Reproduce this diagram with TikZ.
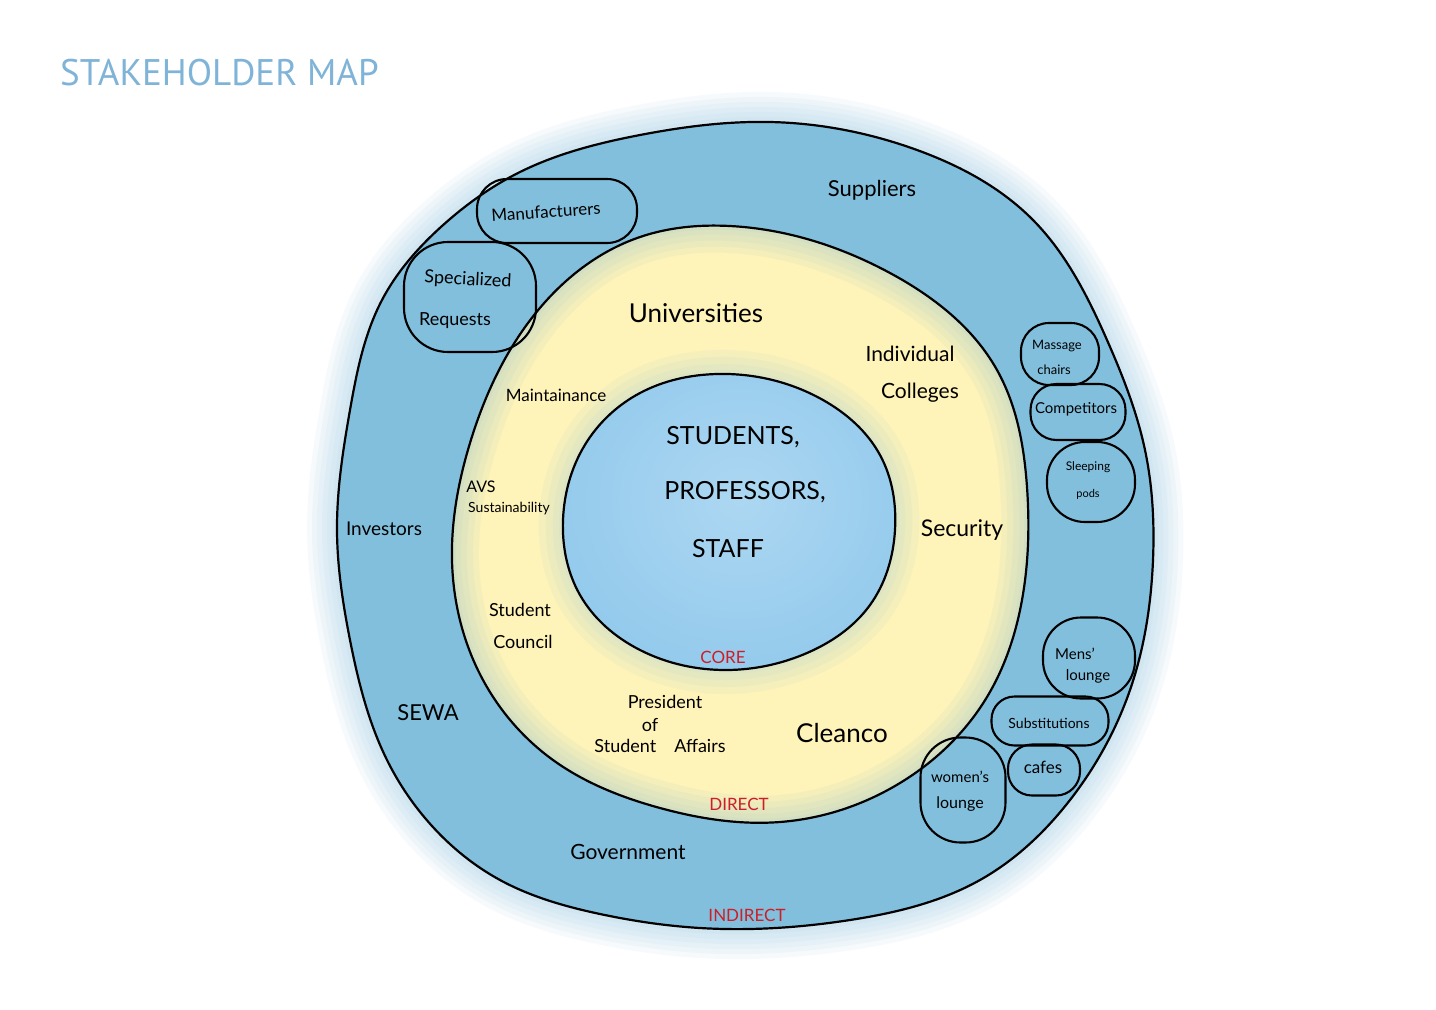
\documentclass[tikz,border=0pt]{standalone}
\usepackage{fontspec}
\usetikzlibrary{hobby}
\setmainfont{Lato}
\newfontfamily\titlefont{PT Sans}
\definecolor{titleblue}{RGB}{127,180,216}
\definecolor{ringblue}{RGB}{130,191,221}
\definecolor{yel}{RGB}{254,243,184}
\definecolor{coreblue}{RGB}{140,198,234}
\definecolor{corelight}{RGB}{172,215,242}
\definecolor{redlab}{RGB}{205,30,40}
\tikzset{
  lab/.style={inner sep=0pt, text=black},
  redl/.style={inner sep=0pt, text=redlab, font=\fontsize{17}{19}\selectfont},
  blob/.style={draw=black, line width=2.1pt, rounded corners=26pt, inner sep=0pt},
  ringline/.style={draw=black, line width=2.2pt},
}
\newcommand{\fs}[1]{\fontsize{#1}{#1}\selectfont}
\begin{document}
\begin{tikzpicture}[x=1pt,y=-1pt]
\useasboundingbox (0,0) rectangle (1436,1010);
\fill[white] (0,0) rectangle (1436,1010);
\def\outerP{plot[closed hobby] coordinates{(640,135) (770,122) (917,150) (1033,220) (1107,340) (1145,450) (1153,560) (1130,690) (1070,800) (980,880) (850,920) (700,928) (600,914) (500,880) (432,826) (387,760) (350,640) (337,530) (350,410) (382,300) (442,226) (520,172)}}
\def\middleP{plot[closed hobby] coordinates{(730,226) (890,273) (997,370) (1027,487) (1022,600) (987,697) (900,783) (780,822) (660,808) (553,760) (483,680) (452,560) (470,443) (528,323) (640,237)}}
\def\innerP{plot[closed hobby] coordinates{(717,374) (823,400) (880,455) (895,530) (870,605) (807,653) (727,670) (640,650) (580,595) (563,520) (588,440) (640,393)}}
% soft glow outside the outer ring
\foreach \w in {60,50,40,30,20,10}{\draw[ringblue,line width=\w pt,opacity=0.07] \outerP;}
\fill[ringblue] \outerP;
\fill[yel] \middleP;
\begin{scope}
  \clip \middleP;
  \foreach \w in {54,42,30,18,8}{\draw[ringblue,line width=\w pt,opacity=0.08] \middleP;}
  \foreach \w in {48,34,20,8}{\draw[coreblue,line width=\w pt,opacity=0.08] \innerP;}
\end{scope}
\begin{scope}
  \clip \innerP;
  \shade[inner color=corelight, outer color=coreblue] (740,500) ellipse (250pt and 230pt);
\end{scope}
\draw[ringline] \outerP;
\draw[ringline] \middleP;
\draw[ringline] \innerP;

% title
\node[anchor=base west, inner sep=0pt, text=titleblue, font=\titlefont\fs{37}] (title) at (60,85) {STAKEHOLDER MAP};

% blobs
\node[blob, minimum width=160pt, minimum height=64pt, rounded corners=30pt] (bManuf) at (557,211) {};
\node[blob, minimum width=132pt, minimum height=110pt, rounded corners=44pt] (bSpec) at (470,297) {};
\node[blob, minimum width=78pt, minimum height=62pt, rounded corners=28pt] (bMass) at (1060,354) {};
\node[blob, minimum width=95pt, minimum height=56pt, rounded corners=26pt] (bComp) at (1078,412) {};
\node[blob, minimum width=88pt, minimum height=80pt, rounded corners=38pt] (bSleep) at (1091,482) {};
\node[blob, minimum width=92pt, minimum height=81pt, rounded corners=38pt] (bMens) at (1089,658) {};
\node[blob, minimum width=117pt, minimum height=49pt, rounded corners=23pt] (bSubs) at (1050,721) {};
\node[blob, minimum width=72pt, minimum height=51pt, rounded corners=24pt] (bCafe) at (1044,770) {};
\node[blob, minimum width=85pt, minimum height=105pt, rounded corners=40pt] (bWomen) at (963,790) {};

% outer ring labels
\node[lab, font=\fs{22}] (suppliers) at (872,190) {Suppliers};
\node[lab, font=\fs{17}, rotate=4] (manuf) at (546,212) {Manufacturers};
\node[lab, font=\fs{18}, rotate=-3] (special) at (468,280) {Specialized};
\node[lab, font=\fs{18}] (requests) at (455,321) {Requests};
\node[lab, font=\fs{19}] (investors) at (384,529) {Investors};
\node[lab, font=\fs{22}] (sewa) at (428,713) {SEWA};
\node[lab, font=\fs{21}] (government) at (628,852) {Government};
\node[lab, font=\fs{13}] (massage) at (1057,346) {Massage};
\node[lab, font=\fs{13}] (chairs) at (1054,370) {chairs};
\node[lab, font=\fs{15}] (competitors) at (1076,409) {Competitors};
\node[lab, font=\fs{12}] (sleeping) at (1088,467) {Sleeping};
\node[lab, font=\fs{11}] (pods) at (1088,494) {pods};
\node[lab, font=\fs{15}] (mens) at (1075,654) {Mens'};
\node[lab, font=\fs{15}] (mlounge) at (1088,676) {lounge};
\node[lab, font=\fs{14}] (subs) at (1049,723) {Substitutions};
\node[lab, font=\fs{17}] (cafes) at (1043,767) {cafes};
\node[lab, font=\fs{15}] (women) at (960,777) {women's};
\node[lab, font=\fs{16}] (wlounge) at (960,804) {lounge};
\node[redl] (indirect) at (747,915) {INDIRECT};

% direct ring labels
\node[lab, font=\fs{26}] (universities) at (696,313) {Universities};
\node[lab, font=\fs{21}] (individual) at (910,354) {Individual};
\node[lab, font=\fs{21}] (colleges) at (920,393) {Colleges};
\node[lab, font=\fs{17}] (maint) at (556,395) {Maintainance};
\node[lab, font=\fs{16}] (avs) at (481,487) {AVS};
\node[lab, font=\fs{14}] (sustain) at (509,509) {Sustainability};
\node[lab, font=\fs{23}] (security) at (962,530) {Security};
\node[lab, font=\fs{18}] (student) at (520,610) {Student};
\node[lab, font=\fs{18}] (council) at (523,642) {Council};
\node[lab, font=\fs{18}] (president) at (665,702) {President};
\node[lab, font=\fs{18}] (of) at (650,725) {of};
\node[lab, font=\fs{18}] (affairs) at (660,746) {Student\quad Affairs};
\node[lab, font=\fs{26}] (cleanco) at (842,733) {Cleanco};
\node[redl] (direct) at (739,804) {DIRECT};

% core labels
\node[lab, font=\fs{25}] (students) at (733,437) {STUDENTS,};
\node[lab, font=\fs{25}] (professors) at (745,492) {PROFESSORS,};
\node[lab, font=\fs{25}] (staff) at (728,549) {STAFF};
\node[redl] (core) at (723,657) {CORE};
\end{tikzpicture}
\end{document}
